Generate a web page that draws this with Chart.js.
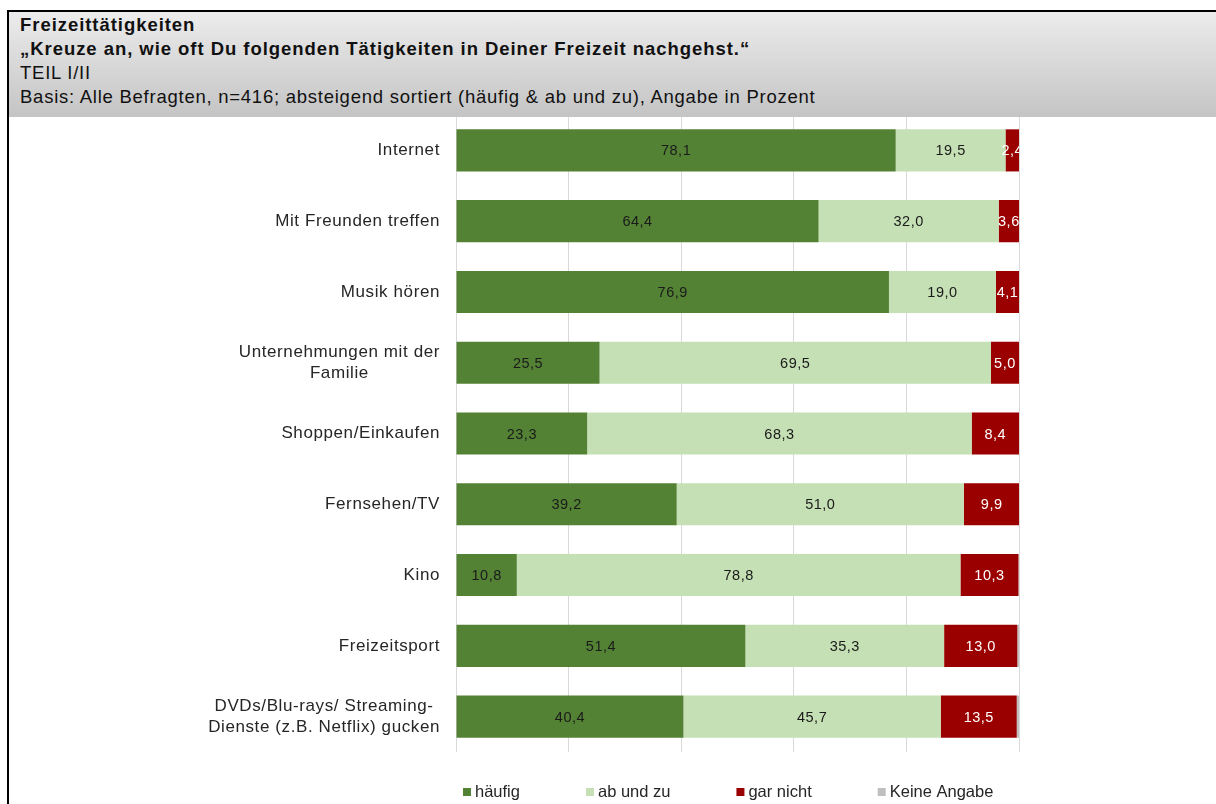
<!DOCTYPE html>
<html>
<head>
<meta charset="utf-8">
<script src="https://cdn.jsdelivr.net/npm/chart.js"></script>
<style>
  body { margin: 0; background: #fff; font-family: "Liberation Sans", Arial, sans-serif; }
  #wrap { position: relative; width: 1216px; height: 804px; overflow: hidden; }
  #chartBox { position: absolute; left: 0; top: 0; width: 1216px; height: 804px; }
  #head {
    position: absolute; left: 7px; top: 10px; width: 1209px; height: 107px;
    border-top: 2px solid #000; border-left: 2px solid #000; box-sizing: border-box;
    background: linear-gradient(#ececec, #c4c4c4);
    padding: 1px 0 0 11px; color: #111; font-size: 18.5px; line-height: 24px; letter-spacing: 0.75px;
  }
  #head b { font-weight: bold; letter-spacing: 0.95px; }
  #leftLine { position: absolute; left: 7px; top: 10px; width: 2px; height: 794px; background: #000; }
</style>
</head>
<body>
<div id="wrap">
  <div id="chartBox"><canvas id="myChart"></canvas></div>
  <div id="head">
    <b>Freizeittätigkeiten</b><br>
    <b>„Kreuze an, wie oft Du folgenden Tätigkeiten in Deiner Freizeit nachgehst.“</b><br>
    TEIL I/II<br>
    Basis: Alle Befragten, n=416; absteigend sortiert (häufig &amp; ab und zu), Angabe in Prozent
  </div>
  <div id="leftLine"></div>
</div>
<script>
// data
let categories = ['Internet', 'Mit Freunden treffen', 'Musik hören', ['Unternehmungen mit der', 'Familie'],
    'Shoppen/Einkaufen', 'Fernsehen/TV', 'Kino', 'Freizeitsport',
    ['DVDs/Blu-rays/ Streaming-', 'Dienste (z.B. Netflix) gucken']];
let haeufig = [78.1, 64.4, 76.9, 25.5, 23.3, 39.2, 10.8, 51.4, 40.4];
let abUndZu = [19.5, 32.0, 19.0, 69.5, 68.3, 51.0, 78.8, 35.3, 45.7];
let garNicht = [2.4, 3.6, 4.1, 5.0, 8.4, 9.9, 10.3, 13.0, 13.5];
let keineAngabe = [0, 0, 0, 0, 0, 0, 0.1, 0.3, 0.4];
let xTicks = [0, 20, 40, 60, 80, 100];

let fontName = '"Liberation Sans", Arial, sans-serif';

// labels in the bars, category names and the legend
let drawText = {
    id: 'drawText',
    afterDatasetsDraw(chart) {
        let ctx = chart.ctx;
        let area = chart.chartArea;
        ctx.save();
        ctx.beginPath();
        ctx.rect(area.left, area.top, area.right - area.left, area.bottom - area.top);
        ctx.clip();
        ctx.font = '14.5px ' + fontName;
        ctx.letterSpacing = '0.5px';
        ctx.textAlign = 'center';
        ctx.textBaseline = 'middle';
        chart.data.datasets.forEach(function (ds, i) {
            if (!ds.labelColor) return;
            chart.getDatasetMeta(i).data.forEach(function (bar, j) {
                ctx.fillStyle = ds.labelColor;
                ctx.fillText(ds.data[j].toFixed(1).replace('.', ','), (bar.x + bar.base) / 2, bar.y + 1);
            });
        });
        ctx.restore();
    },
    afterDraw(chart) {
        let ctx = chart.ctx;
        let yScale = chart.scales.y;
        let area = chart.chartArea;
        ctx.save();
        // category names: block right aligned, lines centred
        ctx.font = '17px ' + fontName;
        ctx.letterSpacing = '0.6px';
        ctx.fillStyle = '#262626';
        ctx.textAlign = 'center';
        ctx.textBaseline = 'middle';
        chart.data.labels.forEach(function (lab, i) {
            let lines = Array.isArray(lab) ? lab : [lab];
            let w = Math.max.apply(null, lines.map(function (l) { return ctx.measureText(l).width; }));
            let cx = area.left - 16 - w / 2;
            let cy = yScale.getPixelForValue(i);
            lines.forEach(function (l, k) {
                ctx.fillText(l, cx, cy + (k - (lines.length - 1) / 2) * 21);
            });
        });
        // legend
        ctx.font = '16.5px ' + fontName;
        ctx.letterSpacing = '0px';
        ctx.textAlign = 'left';
        let x = area.left + 7;
        let y = 792;
        chart.data.datasets.forEach(function (ds) {
            ctx.fillStyle = ds.backgroundColor;
            ctx.fillRect(x, y - 4, 8, 8);
            ctx.fillStyle = '#262626';
            ctx.fillText(ds.label, x + 12, y);
            x += 12 + ctx.measureText(ds.label).width + 66;
        });
        ctx.restore();
    }
};

let myChart = document.getElementById('myChart').getContext('2d');
let chart1 = new Chart(myChart, {
    type: 'bar',
    data: {
        labels: categories,
        datasets: [
            { label: 'häufig', data: haeufig, backgroundColor: '#548235', labelColor: '#1a1a1a' },
            { label: 'ab und zu', data: abUndZu, backgroundColor: '#c5e0b4', labelColor: '#1a1a1a' },
            { label: 'gar nicht', data: garNicht, backgroundColor: '#9b0000', labelColor: '#ffffff' },
            { label: 'Keine Angabe', data: keineAngabe, backgroundColor: '#bfbfbf' }
        ]
    },
    options: {
        indexAxis: 'y',
        responsive: true,
        maintainAspectRatio: false,
        animation: false,
        layout: { padding: { left: 456, right: 197, top: 115, bottom: 52 } },
        datasets: { bar: { categoryPercentage: 1, barPercentage: 0.595, borderWidth: 0 } },
        scales: {
            x: {
                stacked: true,
                min: 0,
                max: 100,
                afterBuildTicks: function (axis) {
                    axis.ticks = xTicks.map(function (v) { return { value: v }; });
                },
                ticks: { display: false },
                grid: { color: '#d9d9d9', lineWidth: 1, drawTicks: false },
                border: { display: false }
            },
            y: {
                stacked: true,
                ticks: { display: false },
                grid: { display: false, drawTicks: false },
                border: { display: false }
            }
        },
        plugins: {
            legend: { display: false },
            tooltip: { enabled: false }
        }
    },
    plugins: [drawText]
});
</script>
</body>
</html>
